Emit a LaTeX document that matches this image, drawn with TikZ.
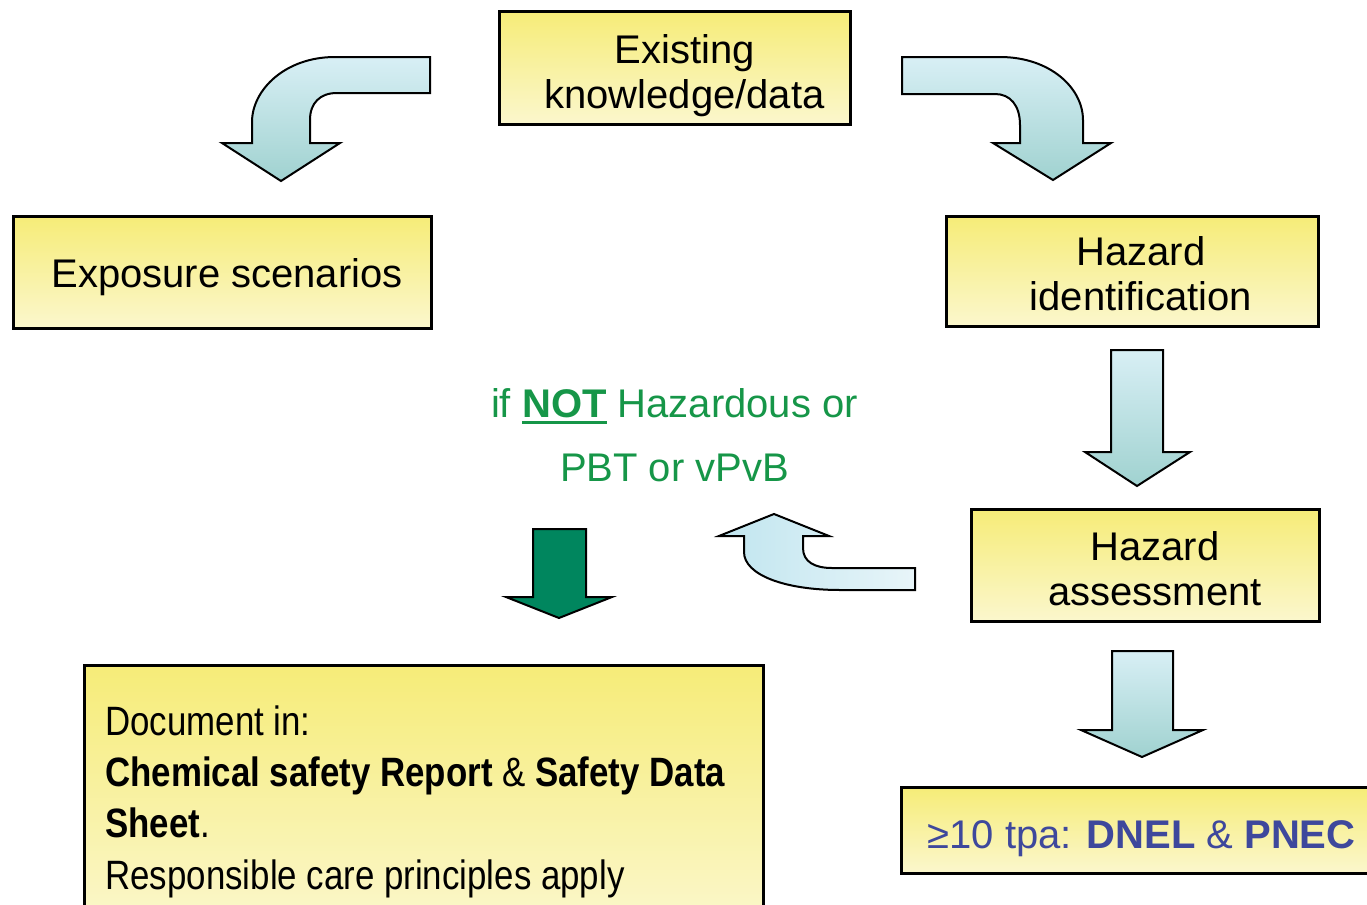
\documentclass[tikz,border=0pt]{standalone}
\usepackage{fontspec}
\setmainfont{Liberation Sans}
\newfontfamily\narrowfont[FakeStretch=0.85]{Liberation Sans}
\definecolor{boxtop}{RGB}{246,236,120}
\definecolor{boxbot}{RGB}{251,247,205}
\definecolor{arrtop}{RGB}{216,239,245}
\definecolor{arrbot}{RGB}{160,210,208}
\definecolor{uleft}{RGB}{192,229,239}
\definecolor{uright}{RGB}{232,245,249}
\definecolor{darkgreenfill}{RGB}{0,134,94}
\definecolor{condgreen}{RGB}{22,150,72}
\definecolor{dnelblue}{RGB}{62,72,156}
\newcommand\thickul[1]{\setbox0\hbox{#1}\rlap{\rule[-3pt]{\wd0}{1.5pt}}\box0\relax}
\tikzset{
  box/.style={rectangle, draw=black, line width=1.5pt, top color=boxtop, bottom color=boxbot, inner sep=0pt},
  boxtext/.style={font=\fontsize{20}{22.5}\selectfont, align=center, inner sep=0pt, text=black},
  blockarrow/.style={draw=black, line width=1pt, line join=miter, top color=arrtop, bottom color=arrbot},
  uarrow/.style={draw=black, line width=1pt, line join=miter, left color=uleft, right color=uright},
  greenarrow/.style={draw=black, line width=1pt, line join=miter, fill=darkgreenfill},
  condtext/.style={font=\fontsize{20}{32}\selectfont, align=center, inner sep=0pt, text=condgreen},
  doctext/.style={font=\narrowfont\fontsize{20.5}{25.65}\selectfont, align=left, inner sep=0pt, text=black}
}
\begin{document}
\begin{tikzpicture}[x=0.5pt,y=-0.5pt]
\useasboundingbox (0,0) rectangle (1367,905);
\clip (0,0) rectangle (1367,905);

% boxes
\node[box, minimum width=175.5pt, minimum height=56.5pt,
  label={[boxtext, xshift=4.75pt, yshift=-3.95pt]center:{Existing\\knowledge/data}}] (exist) at (675,68) {};
\node[box, minimum width=209pt, minimum height=56pt,
  label={[boxtext, xshift=2.25pt, yshift=-2.2pt]center:{Exposure scenarios}}] (expo) at (222.5,272.5) {};
\node[box, minimum width=186pt, minimum height=55pt,
  label={[boxtext, xshift=4.25pt, yshift=-1.2pt]center:{Hazard\\identification}}] (hid) at (1132.5,271.5) {};
\node[box, minimum width=174pt, minimum height=56pt,
  label={[boxtext, xshift=4.75pt, yshift=-1.6pt]center:{Hazard\\assessment}}] (hass) at (1145.5,565.5) {};
\node[box, minimum width=339.5pt, minimum height=132.5pt] (doc) at (424,797.5) {};
\node[box, minimum width=241pt, minimum height=43pt,
  label={[boxtext, text=dnelblue, xshift=-0.5pt, yshift=-4.2pt]center:{≥10 tpa: \textbf{DNEL} \& \textbf{PNEC}}}] (dnel) at (1142.5,830.5) {};

% texts
\node[doctext, anchor=north west] (dtext) at (105,705)
  {Document in:\\\textbf{Chemical safety Report} \& \textbf{Safety Data}\\\textbf{Sheet}.\\Responsible care principles apply};
\node[condtext] (cond) at (674.5,435.5) {if \thickul{\textbf{NOT}} Hazardous or\\PBT or vPvB};

% curved arrow to the left (exist -> expo)
\draw[blockarrow] (430,57) -- (335,57) .. controls (285,57) and (252,90) .. (252,122)
  -- (252,143) -- (222,143) -- (281,181) -- (340,143) -- (310,143) -- (310,120)
  .. controls (310,103) and (320,93) .. (337,93) -- (430,93) -- cycle;

% curved arrow to the right (exist -> hid)
\draw[blockarrow] (902,57) -- (1000,57) .. controls (1050,57) and (1083,88) .. (1083,120)
  -- (1083,143) -- (1111,143) -- (1053,180) -- (993,143) -- (1020,143) -- (1020,125)
  .. controls (1020,105) and (1010,94) .. (995,94) -- (902,94) -- cycle;

% down arrow hid -> hass
\draw[blockarrow] (1111,350) -- (1163,350) -- (1163,452) -- (1190,452) -- (1137,486)
  -- (1085,452) -- (1111,452) -- cycle;

% down arrow hass -> dnel
\draw[blockarrow] (1112,651) -- (1173,651) -- (1173,730) -- (1203,730) -- (1142,757)
  -- (1081,730) -- (1112,730) -- cycle;

% U-turn arrow from hass
\draw[uarrow] (915,568) -- (832,568) .. controls (815,568) and (803,562) .. (803,548)
  -- (803,536) -- (829,536) -- (774,514) -- (719,536) -- (744,536) -- (744,552)
  .. controls (744,575) and (785,590) .. (840,590) -- (915,590) -- cycle;

% green down arrow
\draw[greenarrow] (533,529) -- (586,529) -- (586,597) -- (612,597) -- (559,618)
  -- (506,597) -- (533,597) -- cycle;
\end{tikzpicture}
\end{document}
